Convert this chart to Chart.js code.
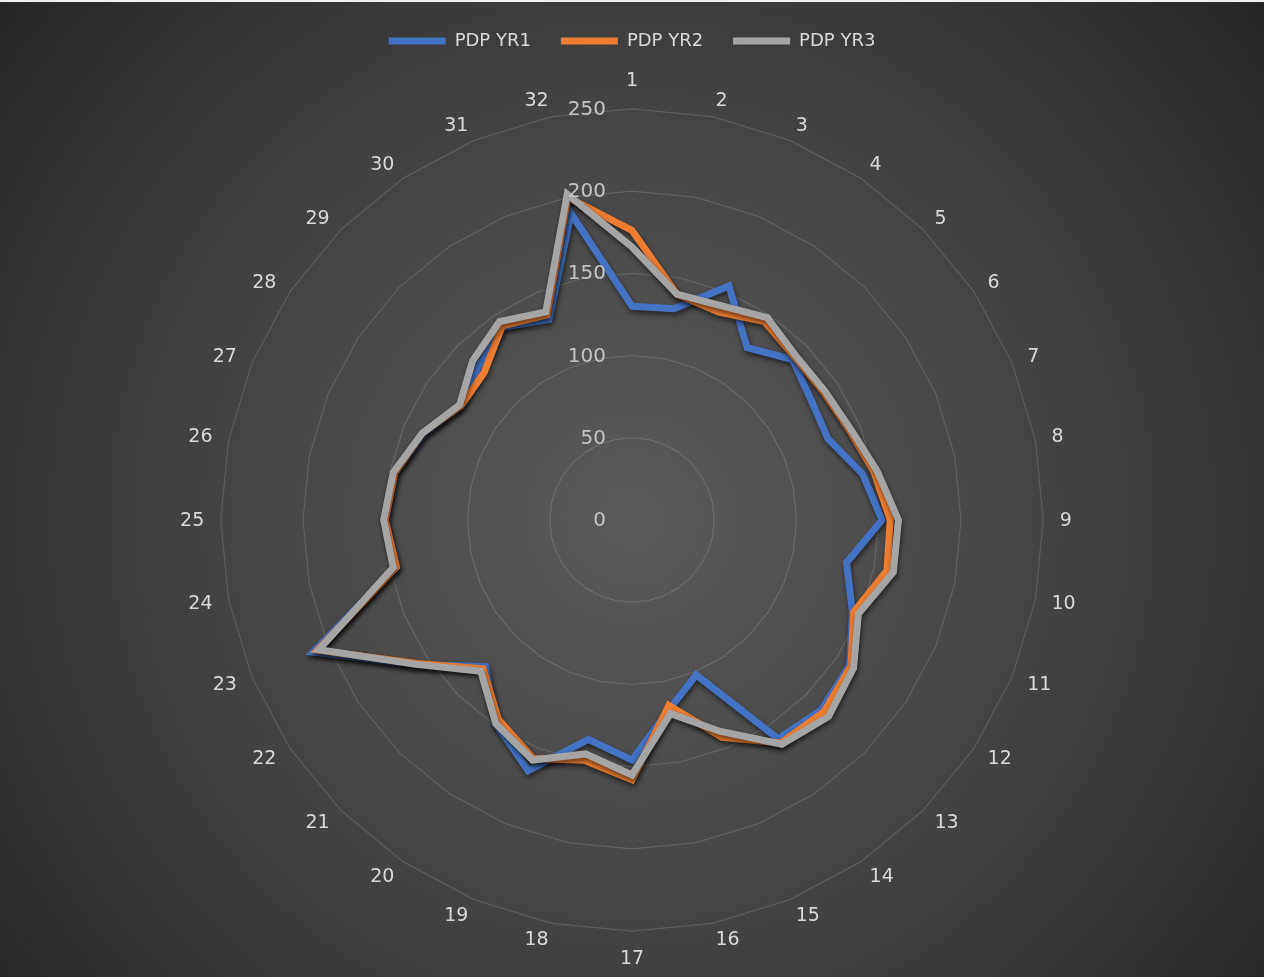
<!DOCTYPE html>
<html>
<head>
<meta charset="utf-8">
<title>PDP radar</title>
<script src="https://cdn.jsdelivr.net/npm/chart.js@4.4.1/dist/chart.umd.min.js"></script>
<style>
  html, body { margin: 0; padding: 0; background: #eef0f5; }
  #wrap {
    position: absolute; left: 0; top: 2px; width: 1264px; height: 975px;
    background: radial-gradient(circle farthest-corner at 632px 516px, #5a5a5a 0%, #474747 45%, #262626 100%);
  }
</style>
</head>
<body>
<div id="wrap"><canvas id="pdp-radar" width="1264" height="975"></canvas></div>
<script>
const labels = ["1", "2", "3", "4", "5", "6", "7", "8", "9", "10", "11", "12", "13", "14", "15", "16",
  "17", "18", "19", "20", "21", "22", "23", "24", "25", "26", "27", "28", "29", "30", "31", "32"];

const yr1 = [130, 131, 154, 126, 138, 131, 129, 143, 152, 133, 145, 159, 163, 160, 102, 117,
  146, 136, 165, 149, 126, 158, 210, 146, 150, 147, 137, 125, 132, 141, 132, 190];
const yr2 = [176, 140, 137, 145, 140, 140, 143, 150, 157, 158, 146, 160, 165, 163, 143, 115,
  158, 149, 157, 146, 128, 157, 207, 146, 150, 147, 138, 125, 127, 142, 135, 200];
const yr3 = [166, 140, 141, 148, 141, 141, 144, 152, 162, 162, 149, 162, 169, 164, 139, 120,
  155, 145, 158, 149, 130, 158, 206, 148, 151, 148, 138, 126, 137, 145, 137, 202];

const tickValues = [0, 50, 100, 150, 200, 250];

document.addEventListener("DOMContentLoaded", function () {
  const canvas = document.getElementById("pdp-radar");
  const ctx = canvas.getContext("2d");

  // a bit more room under the legend, without moving the legend itself
  const legendGap = {
    id: "legendGap",
    beforeLayout(chart) {
      const legend = chart.legend;
      if (!legend || legend._gapPatched) return;
      const fit = legend.fit.bind(legend);
      legend.fit = function () {
        fit();
        this.height += 9;
      };
      legend._gapPatched = true;
    },
  };

  // soft drop shadow under the series lines
  const lineShadow = {
    id: "lineShadow",
    beforeDatasetsDraw(chart) {
      chart.ctx.save();
      chart.ctx.shadowColor = "rgba(0, 0, 0, 0.55)";
      chart.ctx.shadowBlur = 5;
      chart.ctx.shadowOffsetX = 1;
      chart.ctx.shadowOffsetY = 3;
    },
    afterDatasetsDraw(chart) {
      chart.ctx.restore();
    },
  };

  // tick labels left of the vertical axis; category labels vertically centred
  // on their anchor and pushed sideways, the way Excel places them
  const axisText = {
    id: "axisText",
    afterDatasetsDraw(chart) {
      const scale = chart.scales.r;
      const c = chart.ctx;
      c.save();
      c.textBaseline = "middle";

      c.font = "20px 'DejaVu Sans'";
      c.fillStyle = "#c4c4c4";
      c.textAlign = "right";
      tickValues.forEach((v) => {
        const d = scale.getDistanceFromCenterForValue(v);
        c.fillText(String(v), scale.xCenter - 26, scale.yCenter - d + 1);
      });

      c.font = "19px 'DejaVu Sans'";
      c.fillStyle = "#d9d9d9";
      labels.forEach((lab, i) => {
        const p = scale.getPointPosition(i, scale.drawingArea + 16.5);
        const dx = p.x - scale.xCenter;
        const dy = p.y - scale.yCenter;
        let y = p.y + 1;
        if (Math.abs(dx) < 1) {
          c.textAlign = "center";
          y += dy < 0 ? -12 : 10;
        } else {
          c.textAlign = dx > 0 ? "left" : "right";
        }
        c.fillText(lab, p.x, y);
      });
      c.restore();
    },
  };

  const series = (label, data, color, order) => ({
    label: label,
    data: data,
    borderColor: color,
    backgroundColor: color,
    borderWidth: 7,
    borderCapStyle: "round",
    borderJoinStyle: "miter",
    fill: false,
    tension: 0,
    pointRadius: 0,
    pointHoverRadius: 0,
    order: order,
  });

  new Chart(ctx, {
    type: "radar",
    data: {
      labels: labels,
      datasets: [
        series("PDP YR1", yr1, "#4472C4", 3),
        series("PDP YR2", yr2, "#ED7D31", 2),
        series("PDP YR3", yr3, "#A5A5A5", 1),
      ],
    },
    options: {
      responsive: false,
      animation: false,
      layout: { padding: { top: 0, bottom: 6, left: 0, right: 0 } },
      plugins: {
        tooltip: { enabled: false },
        legend: {
          position: "top",
          labels: {
            usePointStyle: true,
            pointStyle: "line",
            pointStyleWidth: 57,
            color: "#d9d9d9",
            font: { family: "'DejaVu Sans'", size: 18 },
            padding: 30,
            sort: (a, b) => a.datasetIndex - b.datasetIndex,
          },
        },
      },
      scales: {
        r: {
          min: 0,
          max: 250,
          ticks: { stepSize: 50, display: false },
          grid: { color: "rgba(255, 255, 255, 0.14)", lineWidth: 1.2 },
          angleLines: { display: false },
          pointLabels: {
            // kept for layout only; the visible labels are drawn by axisText
            color: "rgba(0, 0, 0, 0)",
            font: { family: "'DejaVu Sans'", size: 19 },
            padding: 17,
          },
        },
      },
    },
    plugins: [legendGap, lineShadow, axisText],
  });
});
</script>
</body>
</html>
